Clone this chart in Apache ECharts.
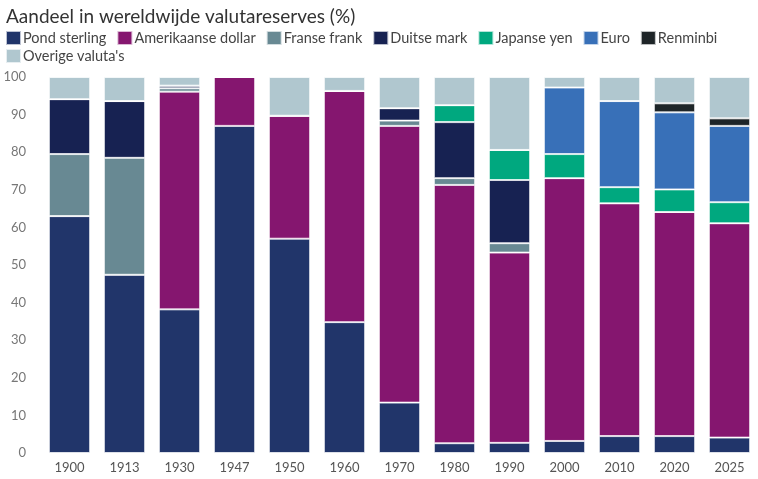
<!DOCTYPE html>
<html><head><meta charset="utf-8">
<script src="https://cdn.jsdelivr.net/npm/echarts@6/dist/echarts.min.js"></script>
<style>html,body{margin:0;padding:0;background:#fff}#c{width:758px;height:479px}</style>
</head><body><div id="c"></div>
<script>
const years = ['1900','1913','1930','1947','1950','1960','1970','1980','1990','2000','2010','2020','2025'];
const pondSterling   = [63.0, 47.4, 38.2, 87.0, 57.0, 34.8, 13.4, 2.6, 2.7, 3.2, 4.5, 4.5, 4.1];
const amerikaanseDollar = [0, 0, 57.9, 13.0, 32.7, 61.5, 73.6, 68.7, 50.6, 69.9, 61.9, 59.6, 57.0];
const fransefrank    = [16.5, 31.1, 0.9, 0, 0, 0, 1.4, 1.8, 2.5, 0, 0, 0, 0];
const duitseMark     = [14.6, 15.1, 0.7, 0, 0, 0, 3.3, 14.9, 16.8, 0, 0, 0, 0];
const japanseYen     = [0, 0, 0, 0, 0, 0, 0, 4.5, 8.0, 6.4, 4.3, 6.0, 5.6];
const euro           = [0, 0, 0, 0, 0, 0, 0, 0, 0, 17.7, 22.9, 20.5, 20.3];
const renminbi       = [0, 0, 0, 0, 0, 0, 0, 0, 0, 0, 0, 2.4, 2.0];
const overige        = [5.9, 6.4, 2.3, 0, 10.3, 3.7, 8.3, 7.5, 19.4, 2.8, 6.4, 7.0, 11.0];
const yTicks = [0,10,20,30,40,50,60,70,80,90,100];

const seriesDefs = [
  ['Pond sterling', pondSterling, '#21356A'],
  ['Amerikaanse dollar', amerikaanseDollar, '#85166F'],
  ['Franse frank', fransefrank, '#688993'],
  ['Duitse mark', duitseMark, '#172252'],
  ['Japanse yen', japanseYen, '#00A87F'],
  ['Euro', euro, '#3870B8'],
  ['Renminbi', renminbi, '#1E2528'],
  ["Overige valuta's", overige, '#B0C7CF']
];
const font = 'Lato';
const legendCommon = {itemWidth:15, itemHeight:14, itemGap:10, padding:0, icon:'rect',
  textStyle:{fontFamily:font, fontSize:14.5, color:'#444', padding:[0,0,0,-3]}};
const chart = echarts.init(document.getElementById('c'), null, {renderer:'canvas'});
chart.setOption({
  animation:false,
  textStyle:{fontFamily:font},
  title:{text:'Aandeel in wereldwijde valutareserves (%)', left:1, top:2,
    textStyle:{fontFamily:font, fontSize:19, fontWeight:'normal', color:'#333'}},
  legend:[
    Object.assign({left:5, top:30, data:seriesDefs.slice(0,7).map(d=>d[0])}, legendCommon),
    Object.assign({left:5, top:48, data:seriesDefs.slice(7).map(d=>d[0])}, legendCommon)
  ],
  grid:{left:42, right:1, top:77, bottom:26, containLabel:false},
  xAxis:{type:'category', data:years, axisLine:{show:false}, axisTick:{show:false},
    axisLabel:{fontFamily:font, fontSize:13, color:'#555', margin:8}},
  yAxis:{type:'value', min:0, max:100, interval:10, splitLine:{show:false},
    axisLine:{show:false}, axisTick:{show:false},
    axisLabel:{fontFamily:font, fontSize:13, color:'#777', margin:16,
      formatter:v=> yTicks.includes(v) ? String(v) : ''}},
  series:seriesDefs.map(d=>({
    name:d[0], type:'bar', stack:'t', data:d[1], barCategoryGap:'25%',
    itemStyle:{color:d[2], borderColor:'rgba(255,255,255,0.7)', borderWidth:1},
    emphasis:{disabled:true}
  }))
});
</script></body></html>
